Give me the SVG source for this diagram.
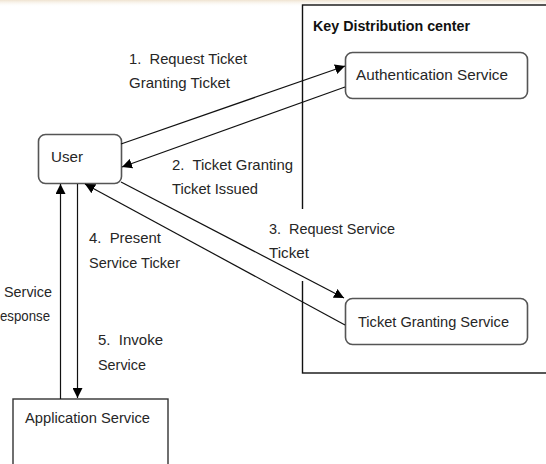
<svg xmlns="http://www.w3.org/2000/svg" width="546" height="464" viewBox="0 0 546 464">
<defs>
<linearGradient id="topband" x1="0" y1="0" x2="0" y2="1">
<stop offset="0" stop-color="#efe3d0"/>
<stop offset="1" stop-color="#ffffff" stop-opacity="0"/>
</linearGradient>
<marker id="arr" viewBox="0 0 10 10" refX="10" refY="5" markerWidth="10" markerHeight="10" markerUnits="userSpaceOnUse" orient="auto">
<path d="M0,0 L10,5 L0,10 Z" fill="#000"/>
</marker>
<style>
text { font-family: "Liberation Sans", Arial, sans-serif; font-size: 15px; fill: #262626; white-space: pre; }
.bold { font-weight: bold; font-size: 14px; fill: #111; }
.node { fill: #fff; stroke: #555; stroke-width: 1.6; }
.plain { fill: #fff; stroke: #333; stroke-width: 1.4; }
.conn line { stroke: #111; stroke-width: 1.2; fill: none; }
</style>
</defs>
<rect x="0" y="0" width="546" height="464" fill="#fff"/>
<rect x="0" y="0" width="546" height="7" fill="url(#topband)"/>

<g id="kdc">
<rect x="302.5" y="5" width="260" height="368" fill="none" stroke="#111" stroke-width="1.4"/>
<text class="bold" x="313" y="31" textLength="157" lengthAdjust="spacingAndGlyphs">Key Distribution center</text>
</g>

<g id="label3-bg">
<rect x="266" y="209" width="132" height="72" fill="#fff"/>
</g>

<g id="user">
<rect class="node" x="38.5" y="134.5" width="83" height="49" rx="7"/>
<text x="51" y="162" textLength="32" lengthAdjust="spacingAndGlyphs">User</text>
</g>

<g id="auth">
<rect class="node" x="345.5" y="52.5" width="182" height="46" rx="7"/>
<text x="356" y="80" textLength="152" lengthAdjust="spacingAndGlyphs">Authentication Service</text>
</g>

<g id="tgs">
<rect class="node" x="345.5" y="298.5" width="182" height="46" rx="7"/>
<text x="358" y="327" textLength="151" lengthAdjust="spacingAndGlyphs">Ticket Granting Service</text>
</g>

<g id="app">
<rect class="plain" x="13" y="399" width="155" height="80"/>
<text x="25" y="423" textLength="125" lengthAdjust="spacingAndGlyphs">Application Service</text>
</g>

<g class="conn" id="connectors">
<line x1="121" y1="144" x2="345" y2="66" marker-end="url(#arr)"/>
<line x1="345" y1="87" x2="122" y2="167" marker-end="url(#arr)"/>
<line x1="121" y1="182" x2="344" y2="298" marker-end="url(#arr)"/>
<line x1="345" y1="325" x2="85" y2="184" marker-end="url(#arr)"/>
<line x1="77.5" y1="184" x2="77.5" y2="398" marker-end="url(#arr)"/>
<line x1="60.5" y1="399" x2="60.5" y2="184" marker-end="url(#arr)"/>
</g>

<g id="labels">
<text x="129" y="64" textLength="118" lengthAdjust="spacingAndGlyphs">1.  Request Ticket</text>
<text x="129" y="88" textLength="101" lengthAdjust="spacingAndGlyphs">Granting Ticket</text>
<text x="172" y="170" textLength="121" lengthAdjust="spacingAndGlyphs">2.  Ticket Granting</text>
<text x="172" y="194" textLength="86" lengthAdjust="spacingAndGlyphs">Ticket Issued</text>
<text x="269" y="234" textLength="126" lengthAdjust="spacingAndGlyphs">3.  Request Service</text>
<text x="269" y="258" textLength="40" lengthAdjust="spacingAndGlyphs">Ticket</text>
<text x="89" y="243" textLength="72" lengthAdjust="spacingAndGlyphs">4.  Present</text>
<text x="89" y="268" textLength="91" lengthAdjust="spacingAndGlyphs">Service Ticker</text>
<text x="98" y="345" textLength="65" lengthAdjust="spacingAndGlyphs">5.  Invoke</text>
<text x="98" y="370" textLength="48" lengthAdjust="spacingAndGlyphs">Service</text>
<text x="4" y="297" textLength="48" lengthAdjust="spacingAndGlyphs">Service</text>
<text x="0" y="321" textLength="50" lengthAdjust="spacingAndGlyphs">esponse</text>
</g>
</svg>
